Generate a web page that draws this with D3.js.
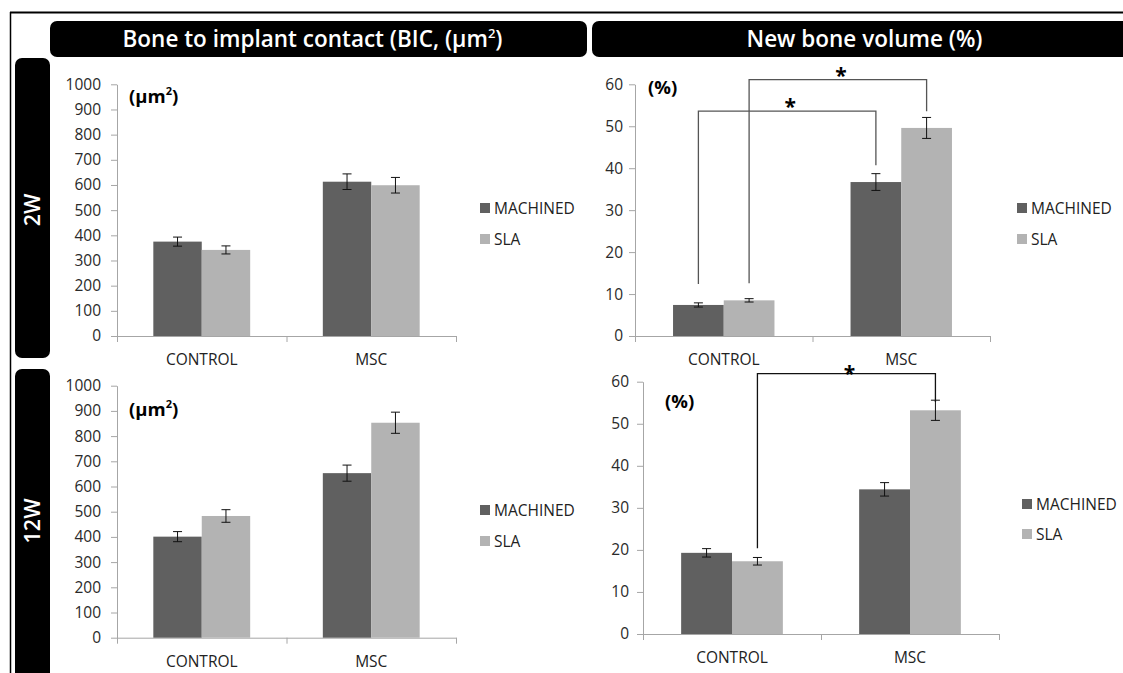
<!DOCTYPE html>
<html>
<head>
	<meta charset="UTF-8">
	<title>BIC and new bone volume</title>
	<style>
html, body {
	margin:0;padding:0;background:#fff;
}
svg text {
	font-family: "Open Sans", "Noto Sans", sans-serif;
}
	</style>
	<script src="https://cdnjs.cloudflare.com/ajax/libs/d3/7.8.5/d3.min.js"></script>
</head>
<body>
<svg id="chart" width="1123" height="673"></svg>
<script>
const categories = ['CONTROL', 'MSC'];
const seriesNames = ['MACHINED', 'SLA'];
const seriesColors = ['#606060', '#b3b3b3'];

// 2W
const bic2wMachined = [375, 613];
const bic2wMachinedErr = [18, 31];
const bic2wSla = [342, 599];
const bic2wSlaErr = [16, 31];
const nbv2wMachined = [7.4, 36.7];
const nbv2wMachinedErr = [0.5, 2.0];
const nbv2wSla = [8.5, 49.6];
const nbv2wSlaErr = [0.4, 2.5];

// 12W
const bic12wMachined = [401, 653];
const bic12wMachinedErr = [20, 32];
const bic12wSla = [483, 853];
const bic12wSlaErr = [25, 42];
const nbv12wMachined = [19.3, 34.4];
const nbv12wMachinedErr = [1.0, 1.6];
const nbv12wSla = [17.3, 53.2];
const nbv12wSlaErr = [0.9, 2.4];

const bicTicks = [0, 100, 200, 300, 400, 500, 600, 700, 800, 900, 1000];
const nbvTicks = [0, 10, 20, 30, 40, 50, 60];

// significance brackets: [category, series] ends, heights in data units
const nbv2wBrackets = [
	{from: ['CONTROL', 'MACHINED'], to: ['MSC', 'MACHINED'], y0: 12.4, level: 53.6, y1: 40.7},
	{from: ['CONTROL', 'SLA'], to: ['MSC', 'SLA'], y0: 12.6, level: 61.1, y1: 53.6}
];
const nbv12wBrackets = [
	{from: ['CONTROL', 'SLA'], to: ['MSC', 'SLA'], y0: 20.4, level: 61.9, y1: 55.2}
];

const svg = d3.select('#chart');

// frame, headers, row labels
svg.append('line').attr('x1', 10).attr('x2', 1123).attr('y1', 12.5).attr('y2', 12.5)
	.attr('stroke', '#000').attr('stroke-width', 2);
svg.append('line').attr('x1', 10.5).attr('x2', 10.5).attr('y1', 12).attr('y2', 673)
	.attr('stroke', '#000').attr('stroke-width', 1.5);

const headers = [
	{x: 50, w: 537, label: 'Bone to implant contact (BIC, (µm', sup: true},
	{x: 592, w: 545, label: 'New bone volume (%)', sup: false}
];
headers.forEach(h => {
	svg.append('rect').attr('x', h.x).attr('y', 21).attr('width', h.w).attr('height', 36)
		.attr('rx', 7).attr('fill', '#000');
	const t = svg.append('text').attr('x', h.x + h.w / 2 - (h.sup ? 6 : 0)).attr('y', 47)
		.attr('text-anchor', 'middle').attr('fill', '#fff')
		.attr('font-size', 22.5).attr('font-weight', 600).text(h.label);
	if (h.sup) {
		t.append('tspan').attr('font-size', 13).attr('dy', -9).text('2');
		t.append('tspan').attr('dy', 9).text(')');
	}
});

const rows = [
	{y: 58, h: 300, label: '2W', cy: 210},
	{y: 369, h: 320, label: '12W', cy: 521}
];
rows.forEach(r => {
	svg.append('rect').attr('x', 15).attr('y', r.y).attr('width', 35).attr('height', r.h)
		.attr('rx', 7).attr('fill', '#000');
	svg.append('text').attr('transform', `translate(40,${r.cy}) rotate(-90)`)
		.attr('text-anchor', 'middle').attr('fill', '#fff')
		.attr('font-size', 21.5).attr('font-weight', 600).text(r.label);
});

function drawPanel(p) {
	const g = svg.append('g');
	const y = d3.scaleLinear().domain([0, d3.max(p.ticks)]).range([p.bottom, p.top]);
	const x = d3.scaleBand().domain(categories).range([p.left, p.right]).paddingInner(0).paddingOuter(0);
	const xs = d3.scaleBand().domain(seriesNames).range([0, x.bandwidth()]).paddingInner(0).paddingOuter(0.75);

	// y axis
	const ya = g.append('g').attr('transform', `translate(${p.left},0)`)
		.call(d3.axisLeft(y).tickValues(p.ticks).tickFormat(d3.format('d'))
			.tickSize(6).tickSizeOuter(0).tickPadding(p.pad));
	ya.select('.domain').attr('stroke', '#a6a6a6');
	ya.selectAll('.tick line').attr('stroke', '#a6a6a6');
	ya.selectAll('.tick text').attr('fill', '#2a2a2a').attr('font-size', 15.5)
		.style('font-family', '"Open Sans", sans-serif');

	// x axis, ticks at category boundaries
	const xl = d3.scaleLinear().domain([0, categories.length]).range([p.left, p.right]);
	const xa = g.append('g').attr('transform', `translate(0,${p.bottom})`)
		.call(d3.axisBottom(xl).tickValues(d3.range(categories.length + 1)).tickFormat('').tickSize(6).tickSizeOuter(0));
	xa.select('.domain').attr('stroke', '#a6a6a6');
	xa.selectAll('.tick line').attr('stroke', '#a6a6a6');

	g.selectAll('.cat').data(categories).enter().append('text')
		.attr('x', d => x(d) + x.bandwidth() / 2).attr('y', p.bottom + 29)
		.attr('text-anchor', 'middle').attr('fill', '#222').attr('font-size', 15.5).text(d => d);

	// bars
	const rowsData = [];
	categories.forEach((c, i) => seriesNames.forEach((s, j) => {
		rowsData.push({cat: c, s, j, v: p.values[j][i], e: p.errors[j][i]});
	}));
	g.selectAll('.bar').data(rowsData).enter().append('rect')
		.attr('x', d => x(d.cat) + xs(d.s)).attr('width', xs.bandwidth())
		.attr('y', d => y(d.v)).attr('height', d => y(0) - y(d.v))
		.attr('fill', d => seriesColors[d.j]);

	// error bars
	const cx = d => x(d.cat) + xs(d.s) + xs.bandwidth() / 2;
	const eb = g.selectAll('.err').data(rowsData).enter().append('g').attr('stroke', '#111').attr('stroke-width', 1);
	eb.append('line').attr('x1', cx).attr('x2', cx).attr('y1', d => y(d.v + d.e)).attr('y2', d => y(d.v - d.e));
	eb.append('line').attr('x1', d => cx(d) - 4.5).attr('x2', d => cx(d) + 4.5).attr('y1', d => y(d.v + d.e)).attr('y2', d => y(d.v + d.e));
	eb.append('line').attr('x1', d => cx(d) - 4.5).attr('x2', d => cx(d) + 4.5).attr('y1', d => y(d.v - d.e)).attr('y2', d => y(d.v - d.e));

	// significance brackets
	const bx = ([c, s]) => x(c) + xs(s) + xs.bandwidth() / 2;
	(p.brackets || []).forEach(b => {
		const x0 = bx(b.from), x1 = bx(b.to);
		g.append('path')
			.attr('d', `M${x0},${y(b.y0)}V${y(b.level)}H${x1}V${y(b.y1)}`)
			.attr('fill', 'none').attr('stroke', p.bracketColor).attr('stroke-width', 1.3);
		g.append('text').attr('x', (x0 + x1) / 2 + 3).attr('y', y(b.level) + p.starDy)
			.attr('text-anchor', 'middle').attr('font-size', 21).attr('font-weight', 'bold')
			.attr('fill', '#000').text('*');
	});

	// unit label
	const u = g.append('text').attr('x', p.unit[0]).attr('y', p.unit[1])
		.attr('font-size', 18.5).attr('font-weight', 'bold').attr('fill', '#000');
	if (p.unitSup) {
		u.text('(µm');
		u.append('tspan').attr('font-size', 11).attr('dy', -8).text('2');
		u.append('tspan').attr('dy', 8).text(')');
	} else {
		u.text('(%)');
	}

	// legend
	seriesNames.forEach((s, j) => {
		g.append('rect').attr('x', p.legend[0]).attr('y', p.legend[1][j] - 5)
			.attr('width', 10).attr('height', 10).attr('fill', seriesColors[j]);
		g.append('text').attr('x', p.legend[0] + 14).attr('y', p.legend[1][j] + 5.5)
			.attr('font-size', 15.5).attr('fill', '#222').text(s);
	});
}

drawPanel({
	left: 117, right: 456, top: 84.3, bottom: 336, pad: 10, ticks: bicTicks,
	values: [bic2wMachined, bic2wSla], errors: [bic2wMachinedErr, bic2wSlaErr],
	unit: [129, 103], unitSup: true, legend: [480, [208, 239]]
});
drawPanel({
	left: 635, right: 990, top: 84.3, bottom: 336, pad: 6, ticks: nbvTicks,
	values: [nbv2wMachined, nbv2wSla], errors: [nbv2wMachinedErr, nbv2wSlaErr],
	brackets: nbv2wBrackets, bracketColor: '#555', starDy: 3,
	unit: [648, 94], unitSup: false, legend: [1017, [208, 239]]
});
drawPanel({
	left: 117, right: 456, top: 385.7, bottom: 637.7, pad: 10, ticks: bicTicks,
	values: [bic12wMachined, bic12wSla], errors: [bic12wMachinedErr, bic12wSlaErr],
	unit: [129, 416], unitSup: true, legend: [480, [510, 541]]
});
drawPanel({
	left: 643, right: 999, top: 381.7, bottom: 634, pad: 8, ticks: nbvTicks,
	values: [nbv12wMachined, nbv12wSla], errors: [nbv12wMachinedErr, nbv12wSlaErr],
	brackets: nbv12wBrackets, bracketColor: '#111', starDy: 7,
	unit: [665, 408], unitSup: false, legend: [1022, [504, 534]]
});
</script>
</body>
</html>
